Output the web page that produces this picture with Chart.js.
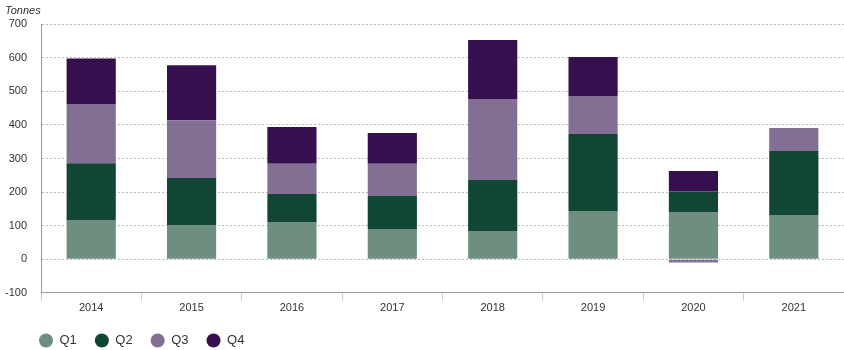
<!DOCTYPE html>
<html>
<head>
<meta charset="utf-8">
<script src="https://cdn.jsdelivr.net/npm/chart.js@4/dist/chart.umd.min.js"></script>
<style>
  html, body { margin: 0; padding: 0; background: #fff; }
  #wrap { width: 844px; height: 350px; position: relative; }
</style>
</head>
<body>
<div id="wrap"><canvas id="chart"></canvas></div>
<script>
const years = ["2014", "2015", "2016", "2017", "2018", "2019", "2020", "2021"];
const q1 = [117, 102, 111, 90, 84, 144, 141, 132];
const q2 = [169, 140, 83, 98, 152, 229, 61, 190];
const q3 = [176, 172, 90, 96, 241, 113, -10, 69];
const q4 = [136, 164, 110, 92, 176, 116, 61, null];
const quarterNames = ["Q1", "Q2", "Q3", "Q4"];
const quarterColors = ["#6e8f80", "#114634", "#846f94", "#36104e"];

const textColor = "#333";
const fontFamily = "'Liberation Sans', Arial, sans-serif";

// nudge legend and unit label to sit where the reference has them
const boxShift = {
  id: "boxShift",
  afterLayout(chart) {
    chart.legend.left += 30;
    chart.titleBlock.left += 14;
  }
};

const seriesData = [q1, q2, q3, q4];

new Chart(document.getElementById("chart"), {
  type: "bar",
  plugins: [boxShift],
  data: {
    labels: years,
    datasets: seriesData.map((vals, i) => ({
      label: quarterNames[i],
      data: vals,
      backgroundColor: quarterColors[i],
      borderWidth: 0,
      categoryPercentage: 1,
      barPercentage: 0.49,
    })),
  },
  options: {
    responsive: true,
    maintainAspectRatio: false,
    animation: false,
    layout: { padding: { left: -9, right: 0, top: 4, bottom: -7 } },
    scales: {
      x: {
        stacked: true,
        grid: { drawOnChartArea: false, drawTicks: true, tickLength: 8, color: "#ccc" },
        border: { color: "#999" },
        ticks: { color: textColor, font: { family: fontFamily, size: 11 }, padding: 1 },
      },
      y: {
        stacked: true,
        min: -100,
        max: 700,
        ticks: { stepSize: 100, color: textColor, font: { family: fontFamily, size: 11 }, padding: 14 },
        grid: { drawTicks: false, color: "#bbb" },
        border: { color: "#999", dash: [2, 2] },
      },
      y2: {
        position: "right",
        min: -100,
        max: 700,
        ticks: { display: false },
        grid: { display: false, drawTicks: false },
        border: { color: "#999" },
      },
    },
    plugins: {
      tooltip: { enabled: false },
      title: {
        display: true,
        text: "Tonnes",
        align: "start",
        color: textColor,
        font: { family: fontFamily, size: 11, style: "italic", weight: "normal" },
        padding: { top: 0, bottom: 7 },
      },
      legend: {
        position: "bottom",
        align: "start",
        labels: {
          usePointStyle: true,
          pointStyle: "circle",
          pointStyleWidth: 14,
          boxHeight: 10,
          padding: 18,
          color: textColor,
          font: { family: fontFamily, size: 13 },
        },
      },
    },
  },
});
</script>
</body>
</html>
